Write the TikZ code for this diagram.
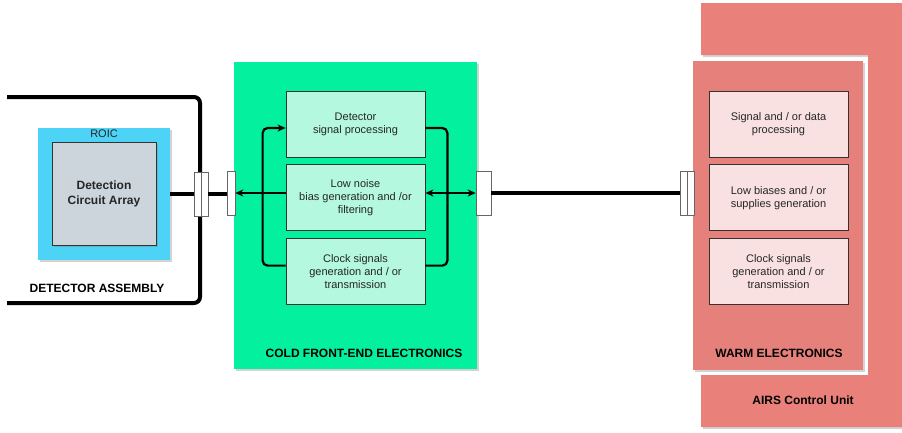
\documentclass[tikz,border=0pt]{standalone}
\usepackage{fontspec}
\setmainfont{Liberation Sans}
\usetikzlibrary{positioning,shadows,arrows.meta}

\definecolor{coldgreen}{HTML}{03F09E}
\definecolor{coldmint}{HTML}{B3F8DF}
\definecolor{roicblue}{HTML}{4DD3F6}
\definecolor{dcagray}{HTML}{CCD5DC}
\definecolor{airsred}{HTML}{E9807A}
\definecolor{warmred}{HTML}{E5807B}
\definecolor{warmpink}{HTML}{F9E1E1}

\tikzset{
  softshadow/.style={drop shadow={shadow xshift=2pt,shadow yshift=-2pt,opacity=0.35}},
  box/.style={draw=black!80,line width=0.8pt,inner sep=0pt,align=center,text=black!85,font=\fontsize{11}{13}\selectfont},
  coldbox/.style={box,fill=coldmint,minimum width=139pt,minimum height=66pt},
  warmbox/.style={box,fill=warmpink,minimum width=139pt,minimum height=66pt},
  plug/.style={draw=black!60,fill=white,line width=0.6pt,minimum width=14pt,minimum height=44pt,inner sep=0pt},
  cable/.style={line width=4pt},
  bus/.style={line width=2.2pt},
  title/.style={font=\fontsize{12}{15}\selectfont\bfseries,align=center}
}

\begin{document}
\begin{tikzpicture}[x=1pt,y=-1pt,>={Stealth[length=8pt,width=7pt,inset=2.5pt]}]
  \useasboundingbox (0,0) rectangle (902,432);

  % AIRS control unit
  \fill[airsred,softshadow] (701,3) -- (902,3) -- (902,427) -- (701,427) -- (701,375)
        -- (868,375) -- (868,55) -- (701,55) -- cycle;
  \node[title] (acu) at (803,400) {AIRS Control Unit};

  % warm electronics
  \node[fill=warmred,minimum width=170pt,minimum height=309pt,softshadow] (warm) at (778,215.5) {};
  \node[title] (warmtitle) at (779,353) {WARM ELECTRONICS};
  \node[warmbox] (we1) at (778.5,124) {Signal and / or data\\processing};
  \node[warmbox,below=7pt of we1] (we2) {Low biases and / or\\supplies generation};
  \node[warmbox,below=7pt of we2] (we3) {Clock signals\\generation and / or\\transmission};

  % cold front-end electronics
  \node[fill=coldgreen,minimum width=243pt,minimum height=307pt,softshadow] (cold) at (355.5,215.5) {};
  \node[title] (coldtitle) at (364,353) {COLD FRONT-END ELECTRONICS};
  \node[coldbox] (cfe1) at (355.5,124) {Detector\\signal processing};
  \node[coldbox,below=7pt of cfe1] (cfe2) {Low noise\\bias generation and /or\\filtering};
  \node[coldbox,below=7pt of cfe2] (cfe3) {Clock signals\\generation and / or\\transmission};

  % detector assembly
  \draw[cable,rounded corners=6pt] (7,97) -- (200,97) -- (200,303) -- (7,303);
  \node[fill=roicblue,minimum size=132pt,softshadow] (roic) at (104,194) {};
  \node[below=1pt of roic.north,inner sep=1pt,font=\fontsize{11}{13}\selectfont,text=black!85] (roictitle) {ROIC};
  \node[draw=black!80,line width=0.8pt,fill=dcagray,minimum width=104pt,minimum height=103pt,
        title,text=black!85,softshadow] (dca) at (104,193.5) {Detection\\Circuit Array};
  \node[title] (datitle) at (97,288) {DETECTOR ASSEMBLY};

  % connectors
  \node[plug] (con1) at (201,194) {};
  \draw[draw=black!60,line width=0.6pt] (con1.north) -- (con1.south);
  \node[plug,minimum width=8pt] (con2) at (231,193) {};
  \node[plug,minimum width=15pt] (con3) at (483.5,193) {};
  \node[plug] (con4) at (687,193.5) {};
  \draw[draw=black!60,line width=0.6pt] (con4.north) -- (con4.south);

  % cables
  \draw[cable] (roic.east |- con1) -- (con1.west);
  \draw[cable] (con1.east) -- (con2.west |- con1);
  \draw[cable] (con3.east) -- (con4.west |- con3);

  % buses
  \draw[bus,->] (cfe2.west |- con2) -- (con2.east);
  \draw[bus,rounded corners=5pt,->] ([yshift=6pt]cfe3.west) -- ++(-23,0) |- ([yshift=-4pt]cfe1.west);
  \draw[bus,rounded corners=5pt] ([yshift=-4pt]cfe1.east) -- ++(22,0) |- ([yshift=6pt]cfe3.east);
  \draw[bus,<->] (cfe2.east |- con3) -- (con3.west);

\end{tikzpicture}
\end{document}
